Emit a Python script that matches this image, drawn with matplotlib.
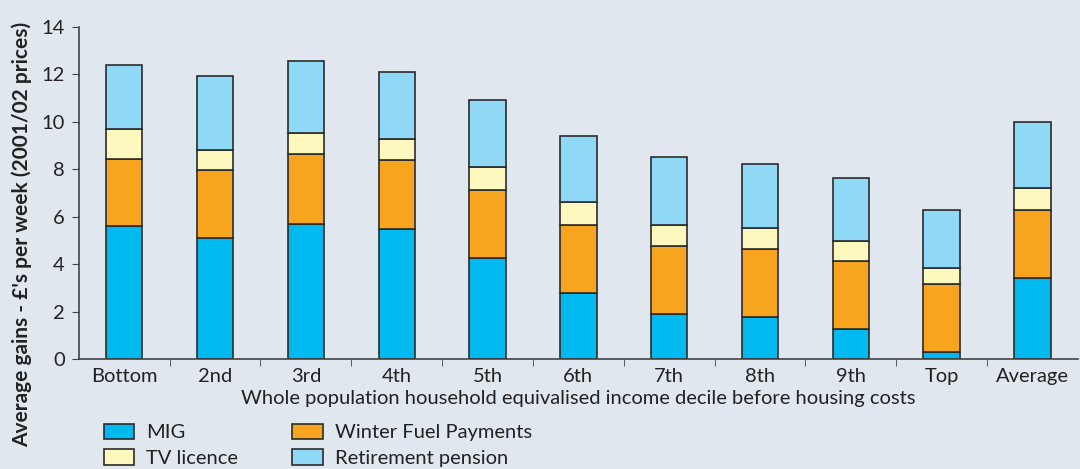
import matplotlib
matplotlib.use("Agg")
import matplotlib.pyplot as plt
import numpy as np

# data (cumulative tops converted to segment heights)
deciles = ["Bottom", "2nd", "3rd", "4th", "5th", "6th", "7th", "8th", "9th", "Top", "Average"]
mig = [5.60, 5.10, 5.70, 5.47, 4.27, 2.80, 1.90, 1.79, 1.29, 0.30, 3.40]
winter_fuel = [2.84, 2.85, 2.95, 2.91, 2.86, 2.85, 2.87, 2.85, 2.84, 2.85, 2.87]
tv_licence = [1.26, 0.87, 0.86, 0.88, 0.96, 0.95, 0.87, 0.89, 0.83, 0.71, 0.93]
retirement = [2.68, 3.12, 3.05, 2.85, 2.84, 2.80, 2.87, 2.68, 2.69, 2.42, 2.81]

series = [
    ("MIG", mig, "#00b9ef"),
    ("Winter Fuel Payments", winter_fuel, "#f7a51e"),
    ("TV licence", tv_licence, "#fdf8bd"),
    ("Retirement pension", retirement, "#8fd8f6"),
]

bg = "#e0e7ee"
plt.rcParams["font.family"] = ["Lato", "DejaVu Sans"]

fig = plt.figure(figsize=(10.8, 4.69), dpi=100, facecolor=bg)
ax = fig.add_axes([0.073, 0.234, 0.925, 0.709], facecolor=bg)

x = np.arange(len(deciles))
bottom = np.zeros(len(deciles))
handles = {}
for name, vals, col in series:
    bars = ax.bar(x, vals, width=0.4, bottom=bottom, color=col,
                  edgecolor="#2b2b2b", linewidth=1.2, label=name)
    handles[name] = bars
    bottom += np.array(vals)

ax.set_xlim(-0.5, len(deciles) - 0.5)
ax.set_ylim(0, 14)
ax.set_yticks(range(0, 15, 2))
ax.set_xticks(x)
ax.set_xticklabels(deciles)
ax.set_xticks(np.arange(0.5, len(deciles) - 0.5, 1), minor=True)
ax.tick_params(axis="x", which="major", length=0, labelsize=14.5, pad=6, colors="#222222")
ax.tick_params(axis="x", which="minor", length=5, direction="out", color="#444444")
ax.tick_params(axis="y", length=5, direction="out", labelsize=14.5, color="#444444",
               labelcolor="#222222", pad=5)

for side in ["top", "right"]:
    ax.spines[side].set_visible(False)
for side in ["left", "bottom"]:
    ax.spines[side].set_color("#444444")
    ax.spines[side].set_linewidth(1.2)

ax.set_xlabel("Whole population household equivalised income decile before housing costs",
              fontsize=14.5, color="#222222", labelpad=4)
fig.text(0.020, 0.5, "Average gains - £'s per week (2001/02 prices)", rotation=90,
         ha="center", va="center", fontsize=15, fontweight="bold", color="#222222")

order = ["MIG", "TV licence", "Winter Fuel Payments", "Retirement pension"]
leg = fig.legend([handles[n] for n in order], order, ncol=2, loc="upper left",
                 bbox_to_anchor=(0.096, 0.097), frameon=False, fontsize=14.5,
                 handlelength=1.5, handleheight=0.8, handletextpad=0.6,
                 columnspacing=2.7, labelspacing=0.4, borderaxespad=0,
                 borderpad=0)
for t in leg.get_texts():
    t.set_color("#222222")

fig.savefig("out.png", dpi=100, facecolor=bg)
